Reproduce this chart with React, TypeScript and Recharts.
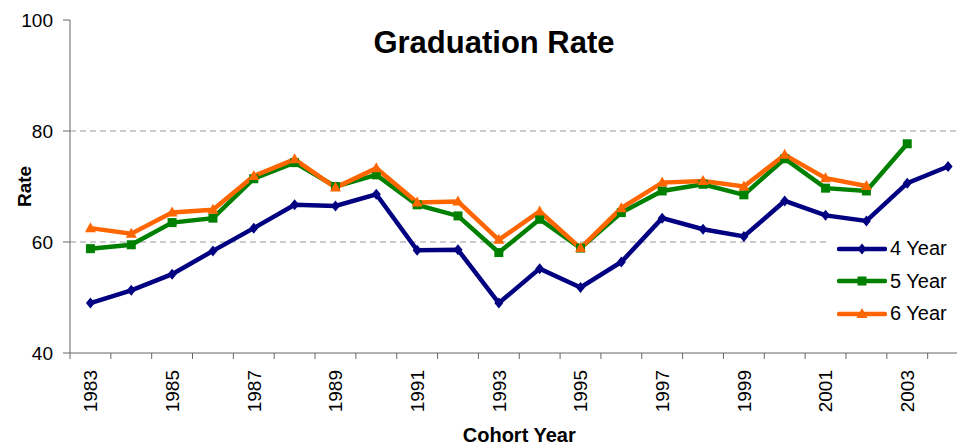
import React from 'react';
import { LineChart, Line, XAxis, YAxis, ReferenceLine, Legend } from 'recharts';

const years = [
  1983, 1984, 1985, 1986, 1987, 1988, 1989, 1990, 1991, 1992, 1993,
  1994, 1995, 1996, 1997, 1998, 1999, 2000, 2001, 2002, 2003, 2004,
];
const fourYear = [
  49.0, 51.3, 54.2, 58.4, 62.5, 66.7, 66.5, 68.6, 58.5, 58.6, 49.0,
  55.2, 51.8, 56.4, 64.3, 62.3, 61.0, 67.4, 64.8, 63.8, 70.6, 73.6,
];
const fiveYear = [
  58.8, 59.5, 63.5, 64.3, 71.4, 74.3, 70.0, 72.1, 66.7, 64.7, 58.1,
  64.1, 58.9, 65.3, 69.2, 70.4, 68.5, 75.0, 69.7, 69.2, 77.7, null,
];
const sixYear = [
  62.5, 61.5, 65.3, 65.8, 71.9, 74.9, 69.8, 73.3, 67.1, 67.3, 60.4,
  65.5, 58.9, 66.1, 70.7, 71.0, 70.0, 75.7, 71.5, 70.1, null, null,
];
const yTicks = [40, 60, 80, 100];
const gridValues = [60, 80];
const labelYears = years.filter((y) => y % 2 === 1);
const boundaries = [...years.map((y) => y - 0.5), years[years.length - 1] + 0.5];
const xTicks = [...boundaries, ...labelYears].sort((a, b) => a - b);

const data = years.map((year, i) => ({
  year,
  y4: fourYear[i],
  y5: fiveYear[i],
  y6: sixYear[i],
}));

const FONT = '"Liberation Sans", Arial, sans-serif';

const Diamond = ({ cx, cy, color }: any) => (
  <polygon points={`${cx},${cy - 5.5} ${cx + 4.5},${cy} ${cx},${cy + 5.5} ${cx - 4.5},${cy}`} fill={color} />
);
const Square = ({ cx, cy, color }: any) => (
  <rect x={cx - 4.5} y={cy - 4.5} width={9} height={9} fill={color} />
);
const Triangle = ({ cx, cy, color }: any) => (
  <polygon points={`${cx},${cy - 6} ${cx + 5.5},${cy + 4} ${cx - 5.5},${cy + 4}`} fill={color} />
);

const series = [
  { key: 'y4', name: '4 Year', color: '#000080', Marker: Diamond },
  { key: 'y5', name: '5 Year', color: '#008000', Marker: Square },
  { key: 'y6', name: '6 Year', color: '#FF6600', Marker: Triangle },
];

const makeDot = (Marker: any, color: string) => (props: any) => {
  const { cx, cy, value, index } = props;
  if (value == null || cy == null || isNaN(cy)) return <g key={`d-${index}`} />;
  return <Marker key={`d-${index}`} cx={cx} cy={cy} color={color} />;
};

// half-year ticks get a tick mark (category boundaries), whole years get a rotated label
const XTick = ({ x, y, payload }: any) => {
  const v = payload.value;
  if (!Number.isInteger(v)) {
    return <line x1={x} x2={x} y1={y} y2={y + 6} stroke="#666" strokeWidth={1} />;
  }
  const ty = y + 17;
  return (
    <text
      x={x}
      y={ty}
      transform={`rotate(-90 ${x} ${ty})`}
      textAnchor="end"
      dy="0.36em"
      fontSize={19}
      fontFamily={FONT}
      fill="#000"
    >
      {v}
    </text>
  );
};

const RateLabel = ({ viewBox }: any) => {
  const vx = viewBox ? viewBox.x : 0;
  const cy = viewBox ? viewBox.y + viewBox.height / 2 : 186;
  const cx = vx + 31;
  return (
    <text
      x={cx}
      y={cy}
      transform={`rotate(-90 ${cx} ${cy})`}
      textAnchor="middle"
      fontSize={19}
      fontWeight="bold"
      fontFamily={FONT}
      fill="#000"
    >
      Rate
    </text>
  );
};

const renderLegend = () => (
  <div style={{ background: '#fff', paddingLeft: 7, fontFamily: FONT }}>
    {series.map((s) => (
      <div key={s.key} style={{ display: 'flex', alignItems: 'center', height: 32.5 }}>
        <svg width={50} height={14}>
          <line x1={2} y1={7} x2={48} y2={7} stroke={s.color} strokeWidth={4.5} strokeLinecap="round" />
          <s.Marker cx={25} cy={7} color={s.color} />
        </svg>
        <span style={{ marginLeft: 3, fontSize: 20, color: '#000' }}>{s.name}</span>
      </div>
    ))}
  </div>
);

export default function App() {
  return (
    <div style={{ position: 'fixed', left: 0, top: 0, width: 957, height: 447, overflow: 'hidden', background: '#fff' }}>
      <div
        style={{
          position: 'absolute',
          left: 294,
          top: 26.5,
          width: 400,
          textAlign: 'center',
          fontFamily: FONT,
          fontWeight: 'bold',
          fontSize: 31,
          lineHeight: '31px',
          color: '#000',
          zIndex: 2,
        }}
      >
        Graduation Rate
      </div>
      <LineChart
        width={1000}
        height={447}
        data={data}
        margin={{ top: 20, right: 31.5, bottom: 0, left: 0 }}
      >
        <XAxis
          dataKey="year"
          type="number"
          domain={[boundaries[0], boundaries[boundaries.length - 1]]}
          ticks={xTicks}
          tick={<XTick />}
          tickLine={false}
          tickSize={0}
          tickMargin={0}
          height={94}
          stroke="#666"
          interval={0}
          label={{
            value: 'Cohort Year',
            position: 'insideBottom',
            offset: 5,
            fontSize: 20,
            fontWeight: 'bold',
            fontFamily: FONT,
            fill: '#000',
          }}
        />
        <YAxis
          domain={[40, 100]}
          ticks={yTicks}
          width={70}
          tickSize={7}
          tickMargin={10}
          stroke="#666"
          tick={{ fontSize: 19, fontFamily: FONT, fill: '#000' }}
          label={<RateLabel />}
          interval={0}
        />
        {gridValues.map((v) => (
          <ReferenceLine key={v} y={v} stroke="#999" strokeDasharray="6 4" strokeWidth={1} />
        ))}
        {series.map((s) => (
          <Line
            key={s.key}
            dataKey={s.key}
            name={s.name}
            stroke={s.color}
            strokeWidth={4.5}
            dot={makeDot(s.Marker, s.color)}
            activeDot={false}
            isAnimationActive={false}
          />
        ))}
        <Legend
          layout="vertical"
          align="center"
          verticalAlign="middle"
          content={renderLegend}
          wrapperStyle={{ left: 830, top: 232.5, width: 140 }}
        />
      </LineChart>
    </div>
  );
}
